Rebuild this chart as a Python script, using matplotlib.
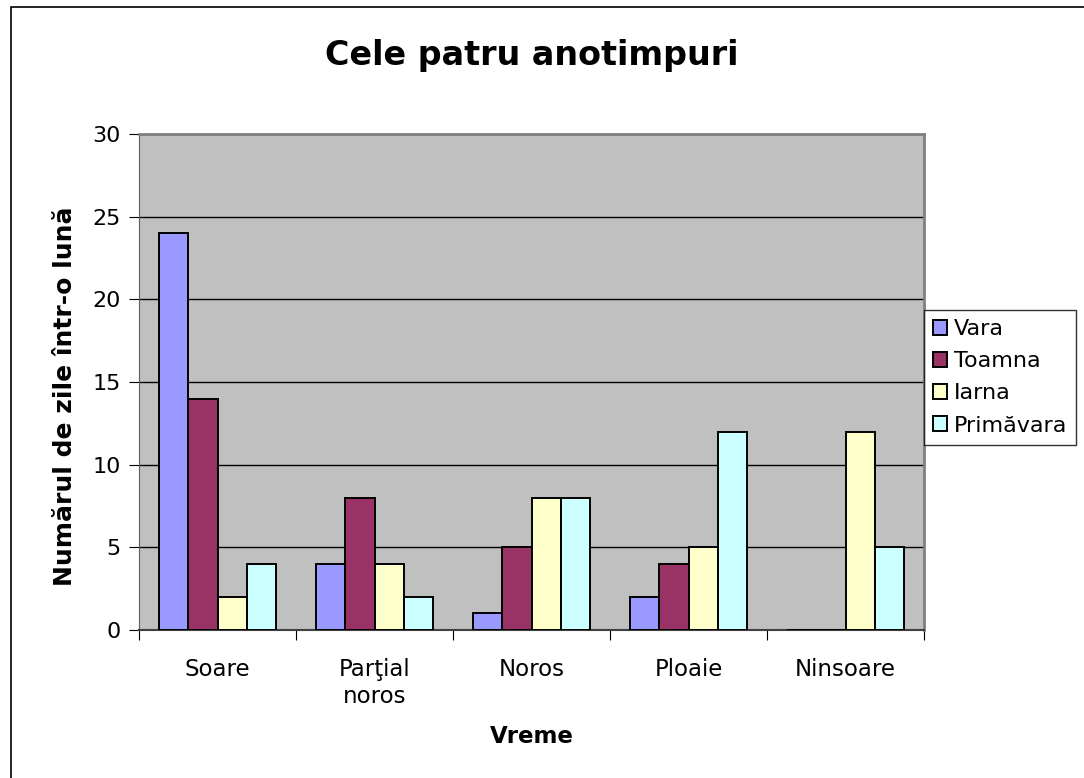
import numpy as np
import matplotlib
matplotlib.use("Agg")
import matplotlib.pyplot as plt
from matplotlib.patches import Rectangle

plt.rcParams["font.family"] = ["DejaVu Sans"]

# ── 数据 ─────────────────────────────────────────────
categories = ["Soare", "Parţial\nnoros", "Noros", "Ploaie", "Ninsoare"]
series_names = ["Vara", "Toamna", "Iarna", "Primăvara"]
vara = [24, 4, 1, 2, 0]
toamna = [14, 8, 5, 4, 0]
iarna = [2, 4, 8, 5, 12]
primavara = [4, 2, 8, 12, 5]
colors = ["#9999FF", "#993366", "#FFFFCC", "#CCFFFF"]

W, H = 1084, 778
fig = plt.figure(figsize=(W / 100, H / 100), dpi=100)
ax = fig.add_axes([139 / W, 1 - 630 / H, (924 - 139) / W, (630 - 134) / H])
ax.set_facecolor("#C0C0C0")

# 外框
fig.patches.append(Rectangle((11 / W, -0.1), 1.2, 1 - 7 / H + 0.1,
                             transform=fig.transFigure, fill=False,
                             edgecolor="black", linewidth=1.2))

x = np.arange(len(categories)) + 0.5
bw = 0.185
values = [vara, toamna, iarna, primavara]
for i, (name, vals, c) in enumerate(zip(series_names, values, colors)):
    ax.bar(x + (i - 1.5) * bw, vals, width=bw, color=c, edgecolor="black",
           linewidth=1.4, label=name, zorder=3)

ax.set_xlim(0, len(categories))
ax.set_ylim(0, 30)
ax.set_yticks(range(0, 31, 5))
ax.tick_params(axis="y", labelsize=16, length=7, direction="out", pad=6)
ax.yaxis.grid(True, color="black", linewidth=1, zorder=1)
ax.set_axisbelow(True)

ax.set_xticks(range(0, len(categories) + 1))
ax.set_xticklabels([])
ax.set_xticks(x, minor=True)
ax.set_xticklabels(categories, minor=True, fontsize=16.5, linespacing=1.25)
ax.tick_params(axis="x", which="major", length=7, direction="out")
ax.tick_params(axis="x", which="minor", length=0, pad=20)

for s in ["top", "right"]:
    ax.spines[s].set_color("#808080")
    ax.spines[s].set_linewidth(2)
ax.spines["left"].set_color("#606060")
ax.spines["bottom"].set_color("#404040")
ax.spines["bottom"].set_linewidth(1.5)

ax.set_title("Cele patru anotimpuri", fontsize=24, fontweight="bold", pad=50)
ax.set_xlabel("Vreme", fontsize=16.5, fontweight="bold", labelpad=12)
ax.set_ylabel("Numărul de zile într-o lună", fontsize=18, fontweight="bold",
              va="center")
ax.yaxis.set_label_coords((65 - 139) / 785, (630 - 396) / 496)

leg = ax.legend(loc="upper left", bbox_to_anchor=(1.0, 0.645), fontsize=16,
                frameon=True, fancybox=False, borderpad=0.4, labelspacing=0.55,
                handlelength=0.65, handleheight=0.65, handletextpad=0.3,
                borderaxespad=0)
leg.get_frame().set_edgecolor("black")
leg.get_frame().set_linewidth(1)

fig.savefig("out.png", dpi=100)
